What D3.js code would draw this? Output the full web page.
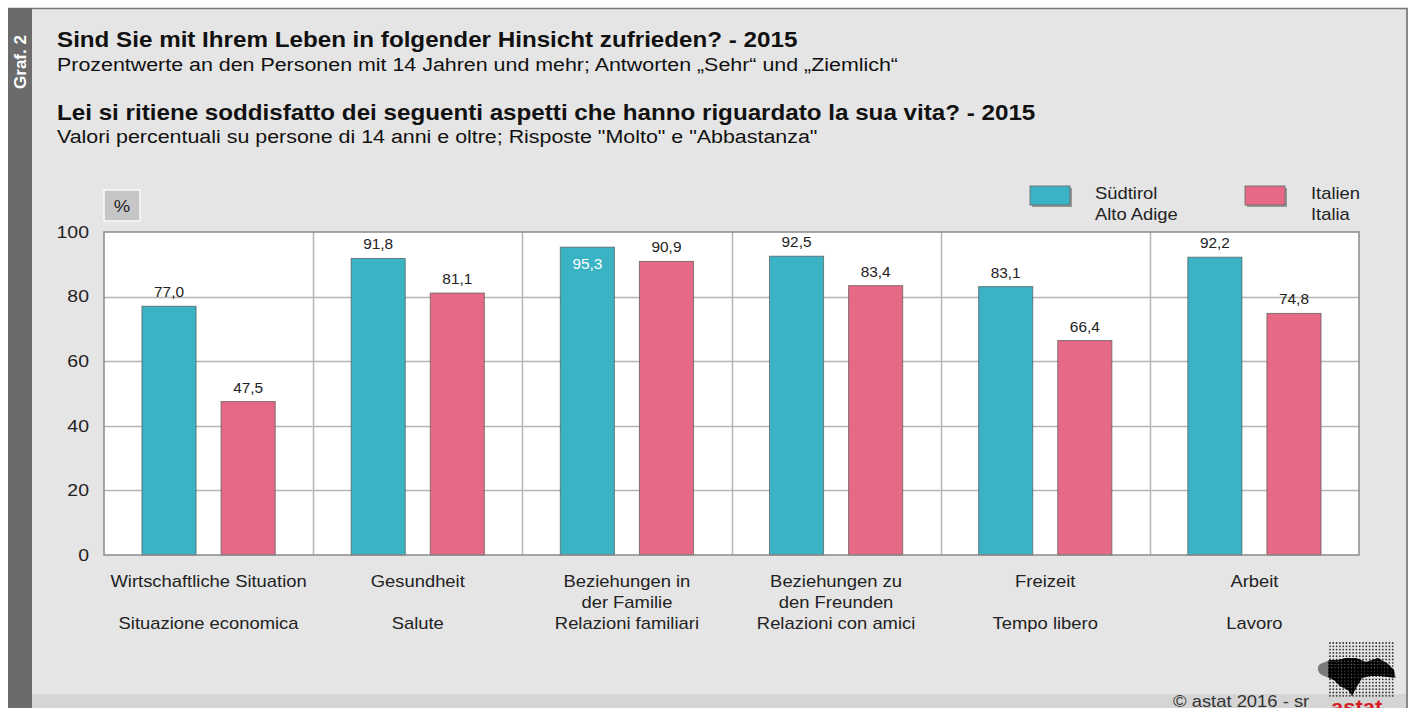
<!DOCTYPE html>
<html lang="de">
<head>
<meta charset="UTF-8">
<title>Graf. 2 - Zufriedenheit 2015</title>
<script src="https://d3js.org/d3.v7.min.js"></script>
<style>
  body { margin: 0; background: #fff; }
  svg text { font-family: "Liberation Sans", Arial, sans-serif; fill: #222; }
</style>
</head>
<body>
<div id="chart"></div>
<script>
// data
const categoriesDe = [["Wirtschaftliche Situation"], ["Gesundheit"], ["Beziehungen in", "der Familie"], ["Beziehungen zu", "den Freunden"], ["Freizeit"], ["Arbeit"]]
const categoriesIt = ["Situazione economica", "Salute", "Relazioni familiari", "Relazioni con amici", "Tempo libero", "Lavoro"]
const suedtirol = [77.0, 91.8, 95.3, 92.5, 83.1, 92.2]
const italien = [47.5, 81.1, 90.9, 83.4, 66.4, 74.8]
const seriesNames = [["Südtirol", "Alto Adige"], ["Italien", "Italia"]]
const yTicks = [0, 20, 40, 60, 80, 100]

const colors = ["#3ab3c4", "#e66986"]
const W = 1410, H = 708
const SX = 1.15 // the original is a bit wider than it is tall

const svg = d3.select("#chart").append("svg")
    .attr("width", W).attr("height", H)

// text helper, stretched horizontally like the original
function txt(parent, x, y, str, size, sx) {
    return parent.append("text")
        .attr("transform", `translate(${x},${y}) scale(${sx || SX},1)`)
        .style("font-size", size + "px")
        .text(str)
}

// frame
svg.append("rect").attr("x", 8).attr("y", 8).attr("width", 1400).attr("height", 700).attr("fill", "#e5e5e5")
svg.append("rect").attr("x", 32).attr("y", 694).attr("width", 1374).attr("height", 14).attr("fill", "#d5d5d5")
svg.append("line").attr("x1", 8).attr("x2", 1408).attr("y1", 8.5).attr("y2", 8.5).attr("stroke", "#777").attr("stroke-width", 1.5)
svg.append("line").attr("x1", 1407).attr("x2", 1407).attr("y1", 8).attr("y2", 708).attr("stroke", "#888").attr("stroke-width", 2)
svg.append("rect").attr("x", 8).attr("y", 8).attr("width", 24).attr("height", 700).attr("fill", "#6b6b6b")
svg.append("text")
    .attr("transform", "translate(26,62) rotate(-90)")
    .attr("text-anchor", "middle")
    .style("fill", "#fff").style("font-size", "17px").style("font-weight", "bold")
    .text("Graf. 2")

// titles
const titles = [
    { t: "Sind Sie mit Ihrem Leben in folgender Hinsicht zufrieden? - 2015", y: 47, b: true },
    { t: "Prozentwerte an den Personen mit 14 Jahren und mehr; Antworten „Sehr“ und „Ziemlich“", y: 71, b: false },
    { t: "Lei si ritiene soddisfatto dei seguenti aspetti che hanno riguardato la sua vita? - 2015", y: 120, b: true },
    { t: "Valori percentuali su persone di 14 anni e oltre; Risposte \"Molto\" e \"Abbastanza\"", y: 143, b: false }
]
titles.forEach(d => {
    txt(svg, 57, d.y, d.t, d.b ? 22 : 18, d.b ? 1.1 : 1.19)
        .style("font-weight", d.b ? "bold" : "normal")
        .style("fill", "#111")
})

// plot
const margin = { top: 232, left: 104, right: 51, bottom: 153 }
const width = W - margin.left - margin.right
const height = H - margin.top - margin.bottom

const g = svg.append("g").attr("transform", `translate(${margin.left},${margin.top})`)

const x0 = d3.scaleBand().domain(d3.range(categoriesIt.length)).range([0, width]).padding(0)
const x1 = d3.scaleBand().domain([0, 1]).range([0, x0.bandwidth()]).paddingInner(0.316).paddingOuter(0.48)
const y = d3.scaleLinear().domain([0, 100]).range([height, 0])

g.append("rect").attr("width", width).attr("height", height).attr("fill", "#fff")

// grid
g.selectAll(".hgrid").data(yTicks.slice(1, -1)).enter().append("line")
    .attr("x1", 0).attr("x2", width)
    .attr("y1", d => Math.round(y(d)) + 0.5).attr("y2", d => Math.round(y(d)) + 0.5)
    .attr("stroke", "#b5b5b5").attr("stroke-width", 1.5)
g.selectAll(".vgrid").data(d3.range(1, categoriesIt.length)).enter().append("line")
    .attr("x1", d => Math.round(x0(d)) + 0.5).attr("x2", d => Math.round(x0(d)) + 0.5)
    .attr("y1", 0).attr("y2", height)
    .attr("stroke", "#b5b5b5").attr("stroke-width", 1.5)

// y axis labels
const yAxis = d3.axisLeft(y).tickValues(yTicks).tickSize(0).tickPadding(15)
g.append("g").call(yAxis)
    .call(a => a.select(".domain").remove())
    .selectAll("text")
    .attr("transform", "scale(1.18,1)")
    .attr("x", -15 / 1.18)
    .style("font-size", "16.5px").style("font-family", "'Liberation Sans', Arial, sans-serif").style("fill", "#222")

// bars
const rows = categoriesIt.map((c, i) => [suedtirol[i], italien[i]])
const groups = g.selectAll(".grp").data(rows).enter().append("g")
    .attr("transform", (d, i) => `translate(${x0(i)},0)`)

groups.selectAll("rect").data(d => d).enter().append("rect")
    .attr("x", (d, j) => x1(j))
    .attr("y", d => y(d))
    .attr("width", x1.bandwidth())
    .attr("height", d => height - y(d))
    .attr("fill", (d, j) => colors[j])
    .attr("stroke", "#555").attr("stroke-opacity", 0.7).attr("stroke-width", 1)

groups.each(function (vals) {
    const grp = d3.select(this)
    vals.forEach((v, j) => {
        const inside = v > 94
        txt(grp, x1(j) + x1.bandwidth() / 2, inside ? y(v) + 22 : y(v) - 9, d3.format(".1f")(v).replace(".", ","), 14, 1.1)
            .attr("text-anchor", "middle")
            .style("fill", inside ? "#fff" : "#222")
    })
})

// border
g.append("rect").attr("width", width).attr("height", height)
    .attr("fill", "none").attr("stroke", "#8a8a8a").attr("stroke-width", 1.5)

// x labels
categoriesIt.forEach((d, i) => {
    const cx = x0(i) + x0.bandwidth() / 2
    categoriesDe[i].forEach((line, k) => {
        txt(g, cx, height + 32 + k * 21, line, 16).attr("text-anchor", "middle")
    })
    txt(g, cx, height + 74, d, 16).attr("text-anchor", "middle")
})

// % box
svg.append("rect").attr("x", 104).attr("y", 190).attr("width", 36).attr("height", 31)
    .attr("fill", "#c6c6c6").attr("stroke", "#fafafa").attr("stroke-width", 1.5)
txt(svg, 122, 212, "%", 16).attr("text-anchor", "middle")

// legend
const legendX = [1030, 1245]
const leg = svg.selectAll(".leg").data(seriesNames).enter().append("g")
    .attr("transform", (d, i) => `translate(${legendX[i]},186)`)
leg.append("rect").attr("x", 2).attr("y", 2).attr("width", 40).attr("height", 19).attr("fill", "#999")
leg.append("rect").attr("width", 40).attr("height", 19)
    .attr("fill", (d, i) => colors[i]).attr("stroke", "#666").attr("stroke-width", 0.8)
leg.each(function (d, i) {
    const t = d3.select(this)
    d.forEach((line, k) => {
        txt(t, i === 0 ? 65 : 66, 13 + k * 21, line, 16)
    })
})

// footer
txt(svg, 1173, 707, "©  astat 2016 - sr", 16).style("fill", "#333")

// logo: dotted map
const logo = svg.append("g").attr("transform", "translate(1316,642)")
const shape = "M4,22 C0,26 2,32 8,34 L18,38 L24,44 L32,48 L36,54 L40,46 L46,36 L54,34 L64,34 L80,36 L78,28 L72,22 L62,16 L50,20 L40,16 L30,16 L22,18 L14,18 Z"
svg.append("clipPath").attr("id", "logoClip").append("path").attr("d", shape)
const dots = []
for (let r = 0; r < 17; r++) for (let c = 0; c < 20; c++) dots.push([c, r])
logo.append("g").selectAll("circle").data(dots).enter().append("circle")
    .attr("cx", d => 14 + d[0] * 3.3).attr("cy", d => 1 + d[1] * 3.3)
    .attr("r", 0.9).attr("fill", "#333")
logo.append("path").attr("d", shape).attr("fill", "#111").attr("opacity", 0.5)
logo.append("g").attr("clip-path", "url(#logoClip)")
    .selectAll("circle").data(dots).enter().append("circle")
    .attr("cx", d => 14 + d[0] * 3.3).attr("cy", d => 1 + d[1] * 3.3)
    .attr("r", 1.9).attr("fill", "#000")
txt(svg, 1331, 714, "astat", 21, 1.05)
    .style("font-weight", "bold").style("fill", "#d51e25")
</script>
</body>
</html>
